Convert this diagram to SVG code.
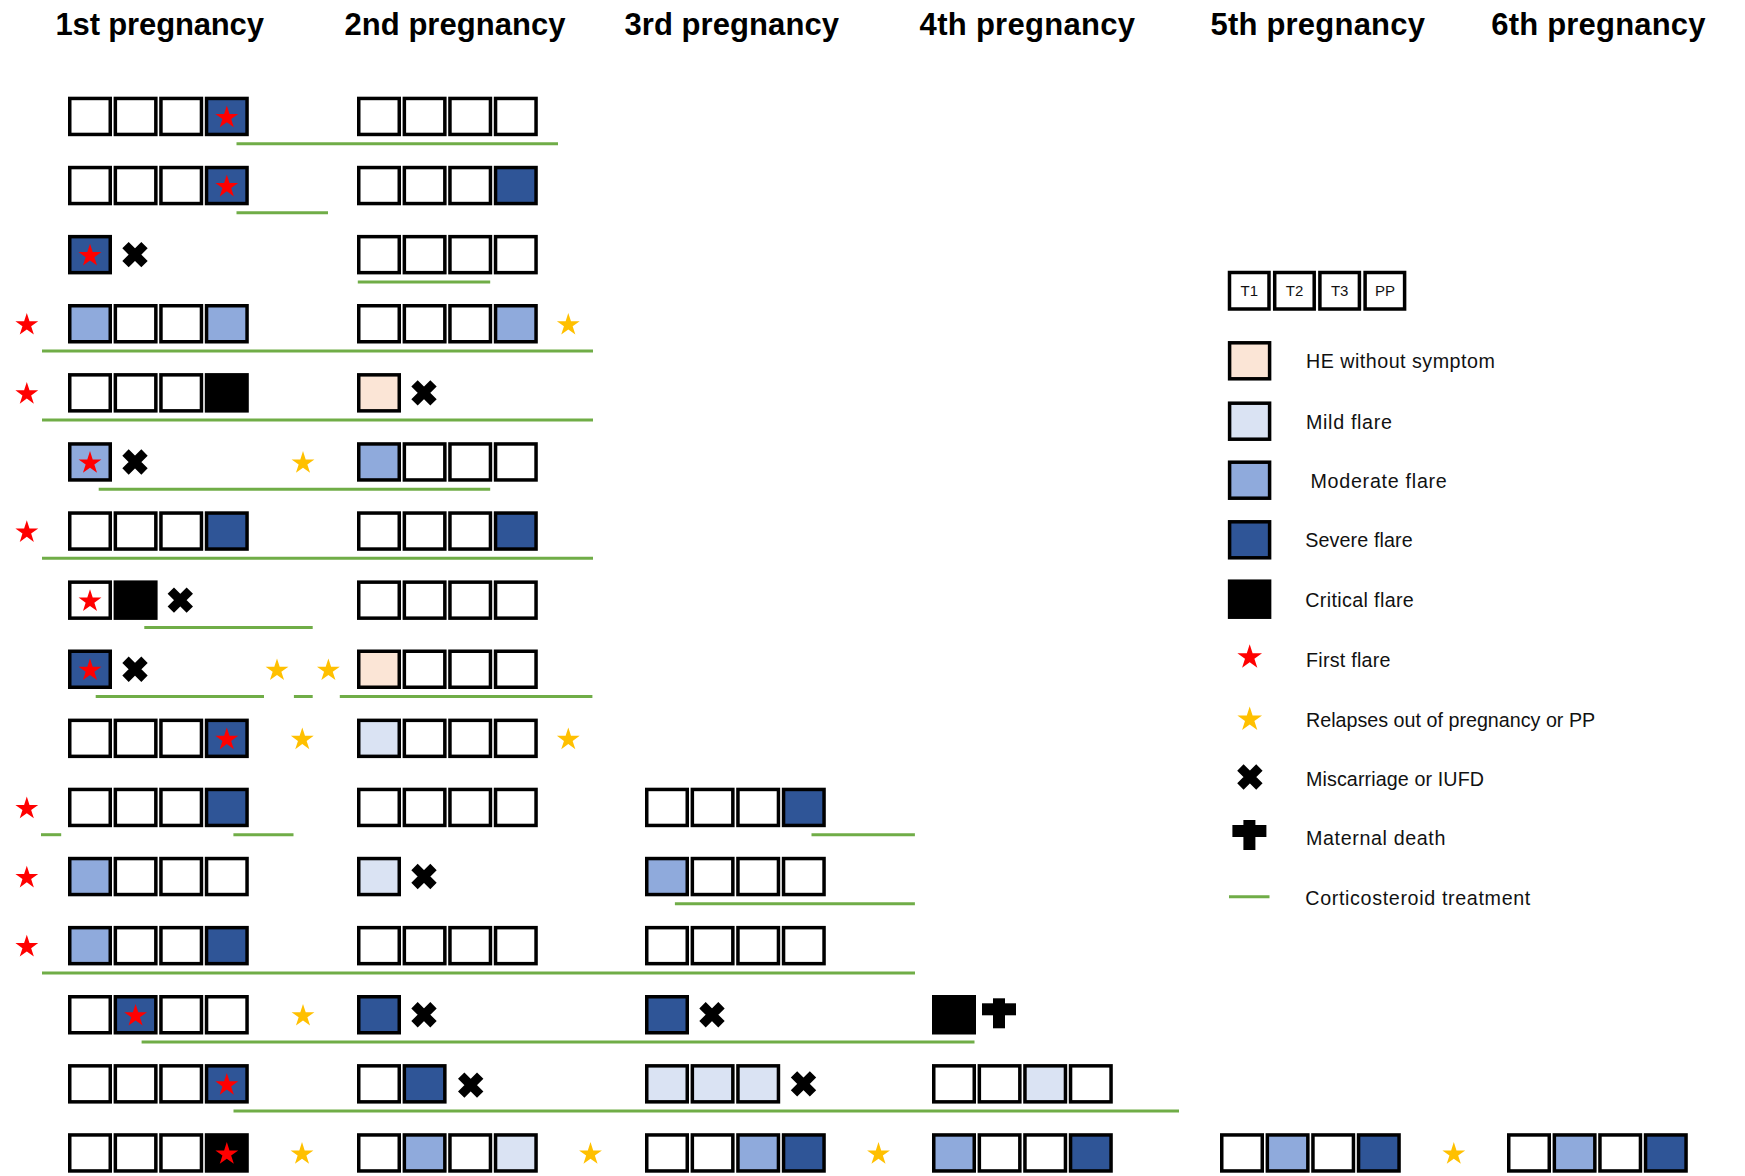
<svg xmlns="http://www.w3.org/2000/svg" xmlns:xlink="http://www.w3.org/1999/xlink" width="1745" height="1176" viewBox="0 0 1745 1176">
<style>
.bx{stroke:#000;stroke-width:3.5}
.w{fill:#fff}.he{fill:#FBE5D6}.mi{fill:#DAE3F3}.mo{fill:#8FAADC}.se{fill:#2F5597}.cr{fill:#000}
.rs{fill:#FF0000}.ys{fill:#FFC000}
.tt{font-family:"Liberation Sans",Arial,sans-serif;font-weight:bold;font-size:31px;fill:#000;text-anchor:middle}
.lg{font-family:"Liberation Sans",Arial,sans-serif;font-size:19.7px;fill:#111}
.tl{font-family:"Liberation Sans",Arial,sans-serif;font-size:15px;fill:#111;text-anchor:middle}
.gl{stroke:#70AD47;stroke-width:3;fill:none}
</style>
<defs>
<path id="star" d="M0,-10.85 L2.69,-2.56 L11.41,-2.56 L4.36,2.57 L7.05,10.86 L0,5.73 L-7.05,10.86 L-4.36,2.57 L-11.41,-2.56 L-2.69,-2.56 Z"/>
<path id="xm" d="M-9.5,-9.5 L9.5,9.5 M9.5,-9.5 L-9.5,9.5" stroke="#000" stroke-width="9" fill="none"/>
<g id="crs" fill="#000"><rect x="-6" y="-15" width="12" height="30"/><rect x="-17" y="-10" width="34" height="12"/></g>
</defs>
<rect width="1745" height="1176" fill="#fff"/>

<g id="titles">
<text class="tt" x="159.7" y="35" textLength="208.5">1st pregnancy</text>
<text class="tt" x="455" y="35" textLength="221">2nd pregnancy</text>
<text class="tt" x="731.7" y="35" textLength="214.6">3rd pregnancy</text>
<text class="tt" x="1027.3" y="35" textLength="215.4">4th pregnancy</text>
<text class="tt" x="1317.7" y="35" textLength="214.5">5th pregnancy</text>
<text class="tt" x="1598.4" y="35" textLength="214.2">6th pregnancy</text>
</g>

<g id="treatment-lines" class="gl">
<line x1="236.5" y1="143.7" x2="558" y2="143.7"/>
<line x1="236.5" y1="212.8" x2="328" y2="212.8"/>
<line x1="357.8" y1="281.9" x2="490.2" y2="281.9"/>
<line x1="42" y1="351" x2="593" y2="351"/>
<line x1="42" y1="420.1" x2="593" y2="420.1"/>
<line x1="98.7" y1="489.2" x2="490.2" y2="489.2"/>
<line x1="42" y1="558.3" x2="593" y2="558.3"/>
<line x1="144.3" y1="627.4" x2="312.7" y2="627.4"/>
<line x1="95.7" y1="696.5" x2="264" y2="696.5"/>
<line x1="293.9" y1="696.5" x2="312.7" y2="696.5"/>
<line x1="339.8" y1="696.5" x2="592.4" y2="696.5"/>
<line x1="41" y1="834.7" x2="61.2" y2="834.7"/>
<line x1="233.4" y1="834.7" x2="293.5" y2="834.7"/>
<line x1="811.5" y1="834.7" x2="914.9" y2="834.7"/>
<line x1="674.9" y1="903.8" x2="914.9" y2="903.8"/>
<line x1="42" y1="972.9" x2="915" y2="972.9"/>
<line x1="141.6" y1="1042" x2="974.5" y2="1042"/>
<line x1="233.5" y1="1111.1" x2="1179" y2="1111.1"/>
</g>

<g id="row1">
<g id="r1p1" transform="translate(68,96.7)">
<rect class="bx w" x="1.75" y="1.75" width="40.5" height="36"/><rect class="bx w" x="47.35" y="1.75" width="40.5" height="36"/><rect class="bx w" x="92.95" y="1.75" width="40.5" height="36"/><rect class="bx se" x="138.55" y="1.75" width="40.5" height="36"/>
<use href="#star" class="rs" x="158.8" y="19.75"/>
</g>
<g id="r1p2" transform="translate(357,96.7)">
<rect class="bx w" x="1.75" y="1.75" width="40.5" height="36"/><rect class="bx w" x="47.35" y="1.75" width="40.5" height="36"/><rect class="bx w" x="92.95" y="1.75" width="40.5" height="36"/><rect class="bx w" x="138.55" y="1.75" width="40.5" height="36"/>
</g>
</g>

<g id="row2">
<g id="r2p1" transform="translate(68,165.8)">
<rect class="bx w" x="1.75" y="1.75" width="40.5" height="36"/><rect class="bx w" x="47.35" y="1.75" width="40.5" height="36"/><rect class="bx w" x="92.95" y="1.75" width="40.5" height="36"/><rect class="bx se" x="138.55" y="1.75" width="40.5" height="36"/>
<use href="#star" class="rs" x="158.8" y="19.75"/>
</g>
<g id="r2p2" transform="translate(357,165.8)">
<rect class="bx w" x="1.75" y="1.75" width="40.5" height="36"/><rect class="bx w" x="47.35" y="1.75" width="40.5" height="36"/><rect class="bx w" x="92.95" y="1.75" width="40.5" height="36"/><rect class="bx se" x="138.55" y="1.75" width="40.5" height="36"/>
</g>
</g>

<g id="row3">
<g id="r3p1" transform="translate(68,234.9)">
<rect class="bx se" x="1.75" y="1.75" width="40.5" height="36"/>
<use href="#star" class="rs" x="22" y="19.75"/>
<use href="#xm" x="67" y="19.75"/>
</g>
<g id="r3p2" transform="translate(357,234.9)">
<rect class="bx w" x="1.75" y="1.75" width="40.5" height="36"/><rect class="bx w" x="47.35" y="1.75" width="40.5" height="36"/><rect class="bx w" x="92.95" y="1.75" width="40.5" height="36"/><rect class="bx w" x="138.55" y="1.75" width="40.5" height="36"/>
</g>
</g>

<g id="row4">
<use href="#star" class="rs" x="26.8" y="323.75"/>
<g id="r4p1" transform="translate(68,304)">
<rect class="bx mo" x="1.75" y="1.75" width="40.5" height="36"/><rect class="bx w" x="47.35" y="1.75" width="40.5" height="36"/><rect class="bx w" x="92.95" y="1.75" width="40.5" height="36"/><rect class="bx mo" x="138.55" y="1.75" width="40.5" height="36"/>
</g>
<g id="r4p2" transform="translate(357,304)">
<rect class="bx w" x="1.75" y="1.75" width="40.5" height="36"/><rect class="bx w" x="47.35" y="1.75" width="40.5" height="36"/><rect class="bx w" x="92.95" y="1.75" width="40.5" height="36"/><rect class="bx mo" x="138.55" y="1.75" width="40.5" height="36"/>
</g>
<use href="#star" class="ys" x="568.3" y="323.75"/>
</g>

<g id="row5">
<use href="#star" class="rs" x="26.8" y="392.85"/>
<g id="r5p1" transform="translate(68,373.1)">
<rect class="bx w" x="1.75" y="1.75" width="40.5" height="36"/><rect class="bx w" x="47.35" y="1.75" width="40.5" height="36"/><rect class="bx w" x="92.95" y="1.75" width="40.5" height="36"/><rect class="bx cr" x="138.55" y="1.75" width="40.5" height="36"/>
</g>
<g id="r5p2" transform="translate(357,373.1)">
<rect class="bx he" x="1.75" y="1.75" width="40.5" height="36"/>
<use href="#xm" x="67" y="19.75"/>
</g>
</g>

<g id="row6">
<g id="r6p1" transform="translate(68,442.2)">
<rect class="bx mo" x="1.75" y="1.75" width="40.5" height="36"/>
<use href="#star" class="rs" x="22" y="19.75"/>
<use href="#xm" x="67" y="19.75"/>
</g>
<use href="#star" class="ys" x="303" y="461.95"/>
<g id="r6p2" transform="translate(357,442.2)">
<rect class="bx mo" x="1.75" y="1.75" width="40.5" height="36"/><rect class="bx w" x="47.35" y="1.75" width="40.5" height="36"/><rect class="bx w" x="92.95" y="1.75" width="40.5" height="36"/><rect class="bx w" x="138.55" y="1.75" width="40.5" height="36"/>
</g>
</g>

<g id="row7">
<use href="#star" class="rs" x="26.8" y="531.05"/>
<g id="r7p1" transform="translate(68,511.3)">
<rect class="bx w" x="1.75" y="1.75" width="40.5" height="36"/><rect class="bx w" x="47.35" y="1.75" width="40.5" height="36"/><rect class="bx w" x="92.95" y="1.75" width="40.5" height="36"/><rect class="bx se" x="138.55" y="1.75" width="40.5" height="36"/>
</g>
<g id="r7p2" transform="translate(357,511.3)">
<rect class="bx w" x="1.75" y="1.75" width="40.5" height="36"/><rect class="bx w" x="47.35" y="1.75" width="40.5" height="36"/><rect class="bx w" x="92.95" y="1.75" width="40.5" height="36"/><rect class="bx se" x="138.55" y="1.75" width="40.5" height="36"/>
</g>
</g>

<g id="row8">
<g id="r8p1" transform="translate(68,580.4)">
<rect class="bx w" x="1.75" y="1.75" width="40.5" height="36"/><rect class="bx cr" x="47.35" y="1.75" width="40.5" height="36"/>
<use href="#star" class="rs" x="22" y="19.75"/>
<use href="#xm" x="112.3" y="19.75"/>
</g>
<g id="r8p2" transform="translate(357,580.4)">
<rect class="bx w" x="1.75" y="1.75" width="40.5" height="36"/><rect class="bx w" x="47.35" y="1.75" width="40.5" height="36"/><rect class="bx w" x="92.95" y="1.75" width="40.5" height="36"/><rect class="bx w" x="138.55" y="1.75" width="40.5" height="36"/>
</g>
</g>

<g id="row9">
<g id="r9p1" transform="translate(68,649.5)">
<rect class="bx se" x="1.75" y="1.75" width="40.5" height="36"/>
<use href="#star" class="rs" x="22" y="19.75"/>
<use href="#xm" x="67" y="19.75"/>
</g>
<use href="#star" class="ys" x="277" y="669.25"/>
<use href="#star" class="ys" x="328.4" y="669.25"/>
<g id="r9p2" transform="translate(357,649.5)">
<rect class="bx he" x="1.75" y="1.75" width="40.5" height="36"/><rect class="bx w" x="47.35" y="1.75" width="40.5" height="36"/><rect class="bx w" x="92.95" y="1.75" width="40.5" height="36"/><rect class="bx w" x="138.55" y="1.75" width="40.5" height="36"/>
</g>
</g>

<g id="row10">
<g id="r10p1" transform="translate(68,718.6)">
<rect class="bx w" x="1.75" y="1.75" width="40.5" height="36"/><rect class="bx w" x="47.35" y="1.75" width="40.5" height="36"/><rect class="bx w" x="92.95" y="1.75" width="40.5" height="36"/><rect class="bx se" x="138.55" y="1.75" width="40.5" height="36"/>
<use href="#star" class="rs" x="158.8" y="19.75"/>
</g>
<use href="#star" class="ys" x="302.3" y="738.35"/>
<g id="r10p2" transform="translate(357,718.6)">
<rect class="bx mi" x="1.75" y="1.75" width="40.5" height="36"/><rect class="bx w" x="47.35" y="1.75" width="40.5" height="36"/><rect class="bx w" x="92.95" y="1.75" width="40.5" height="36"/><rect class="bx w" x="138.55" y="1.75" width="40.5" height="36"/>
</g>
<use href="#star" class="ys" x="568.3" y="738.35"/>
</g>

<g id="row11">
<use href="#star" class="rs" x="26.8" y="807.45"/>
<g id="r11p1" transform="translate(68,787.7)">
<rect class="bx w" x="1.75" y="1.75" width="40.5" height="36"/><rect class="bx w" x="47.35" y="1.75" width="40.5" height="36"/><rect class="bx w" x="92.95" y="1.75" width="40.5" height="36"/><rect class="bx se" x="138.55" y="1.75" width="40.5" height="36"/>
</g>
<g id="r11p2" transform="translate(357,787.7)">
<rect class="bx w" x="1.75" y="1.75" width="40.5" height="36"/><rect class="bx w" x="47.35" y="1.75" width="40.5" height="36"/><rect class="bx w" x="92.95" y="1.75" width="40.5" height="36"/><rect class="bx w" x="138.55" y="1.75" width="40.5" height="36"/>
</g>
<g id="r11p3" transform="translate(645,787.7)">
<rect class="bx w" x="1.75" y="1.75" width="40.5" height="36"/><rect class="bx w" x="47.35" y="1.75" width="40.5" height="36"/><rect class="bx w" x="92.95" y="1.75" width="40.5" height="36"/><rect class="bx se" x="138.55" y="1.75" width="40.5" height="36"/>
</g>
</g>

<g id="row12">
<use href="#star" class="rs" x="26.8" y="876.55"/>
<g id="r12p1" transform="translate(68,856.8)">
<rect class="bx mo" x="1.75" y="1.75" width="40.5" height="36"/><rect class="bx w" x="47.35" y="1.75" width="40.5" height="36"/><rect class="bx w" x="92.95" y="1.75" width="40.5" height="36"/><rect class="bx w" x="138.55" y="1.75" width="40.5" height="36"/>
</g>
<g id="r12p2" transform="translate(357,856.8)">
<rect class="bx mi" x="1.75" y="1.75" width="40.5" height="36"/>
<use href="#xm" x="67" y="19.75"/>
</g>
<g id="r12p3" transform="translate(645,856.8)">
<rect class="bx mo" x="1.75" y="1.75" width="40.5" height="36"/><rect class="bx w" x="47.35" y="1.75" width="40.5" height="36"/><rect class="bx w" x="92.95" y="1.75" width="40.5" height="36"/><rect class="bx w" x="138.55" y="1.75" width="40.5" height="36"/>
</g>
</g>

<g id="row13">
<use href="#star" class="rs" x="26.8" y="945.65"/>
<g id="r13p1" transform="translate(68,925.9)">
<rect class="bx mo" x="1.75" y="1.75" width="40.5" height="36"/><rect class="bx w" x="47.35" y="1.75" width="40.5" height="36"/><rect class="bx w" x="92.95" y="1.75" width="40.5" height="36"/><rect class="bx se" x="138.55" y="1.75" width="40.5" height="36"/>
</g>
<g id="r13p2" transform="translate(357,925.9)">
<rect class="bx w" x="1.75" y="1.75" width="40.5" height="36"/><rect class="bx w" x="47.35" y="1.75" width="40.5" height="36"/><rect class="bx w" x="92.95" y="1.75" width="40.5" height="36"/><rect class="bx w" x="138.55" y="1.75" width="40.5" height="36"/>
</g>
<g id="r13p3" transform="translate(645,925.9)">
<rect class="bx w" x="1.75" y="1.75" width="40.5" height="36"/><rect class="bx w" x="47.35" y="1.75" width="40.5" height="36"/><rect class="bx w" x="92.95" y="1.75" width="40.5" height="36"/><rect class="bx w" x="138.55" y="1.75" width="40.5" height="36"/>
</g>
</g>

<g id="row14">
<g id="r14p1" transform="translate(68,995)">
<rect class="bx w" x="1.75" y="1.75" width="40.5" height="36"/><rect class="bx se" x="47.35" y="1.75" width="40.5" height="36"/><rect class="bx w" x="92.95" y="1.75" width="40.5" height="36"/><rect class="bx w" x="138.55" y="1.75" width="40.5" height="36"/>
<use href="#star" class="rs" x="67.6" y="19.75"/>
</g>
<use href="#star" class="ys" x="303" y="1014.75"/>
<g id="r14p2" transform="translate(357,995)">
<rect class="bx se" x="1.75" y="1.75" width="40.5" height="36"/>
<use href="#xm" x="67" y="19.75"/>
</g>
<g id="r14p3" transform="translate(645,995)">
<rect class="bx se" x="1.75" y="1.75" width="40.5" height="36"/>
<use href="#xm" x="67" y="19.75"/>
</g>
<g id="r14p4" transform="translate(932,995)">
<rect class="bx cr" x="1.75" y="1.75" width="40.5" height="36"/>
<use href="#crs" x="67" y="18.3"/>
</g>
</g>

<g id="row15">
<g id="r15p1" transform="translate(68,1064.1)">
<rect class="bx w" x="1.75" y="1.75" width="40.5" height="36"/><rect class="bx w" x="47.35" y="1.75" width="40.5" height="36"/><rect class="bx w" x="92.95" y="1.75" width="40.5" height="36"/><rect class="bx se" x="138.55" y="1.75" width="40.5" height="36"/>
<use href="#star" class="rs" x="158.8" y="19.75"/>
</g>
<g id="r15p2" transform="translate(357,1064.1)">
<rect class="bx w" x="1.75" y="1.75" width="40.5" height="36"/><rect class="bx se" x="47.35" y="1.75" width="40.5" height="36"/>
<use href="#xm" x="113.7" y="21"/>
</g>
<g id="r15p3" transform="translate(645,1064.1)">
<rect class="bx mi" x="1.75" y="1.75" width="40.5" height="36"/><rect class="bx mi" x="47.35" y="1.75" width="40.5" height="36"/><rect class="bx mi" x="92.95" y="1.75" width="40.5" height="36"/>
<use href="#xm" x="158.5" y="19.75"/>
</g>
<g id="r15p4" transform="translate(932,1064.1)">
<rect class="bx w" x="1.75" y="1.75" width="40.5" height="36"/><rect class="bx w" x="47.35" y="1.75" width="40.5" height="36"/><rect class="bx mi" x="92.95" y="1.75" width="40.5" height="36"/><rect class="bx w" x="138.55" y="1.75" width="40.5" height="36"/>
</g>
</g>

<g id="row16">
<g id="r16p1" transform="translate(68,1133.2)">
<rect class="bx w" x="1.75" y="1.75" width="40.5" height="36"/><rect class="bx w" x="47.35" y="1.75" width="40.5" height="36"/><rect class="bx w" x="92.95" y="1.75" width="40.5" height="36"/><rect class="bx cr" x="138.55" y="1.75" width="40.5" height="36"/>
<use href="#star" class="rs" x="158.8" y="19.75"/>
</g>
<use href="#star" class="ys" x="302" y="1152.95"/>
<g id="r16p2" transform="translate(357,1133.2)">
<rect class="bx w" x="1.75" y="1.75" width="40.5" height="36"/><rect class="bx mo" x="47.35" y="1.75" width="40.5" height="36"/><rect class="bx w" x="92.95" y="1.75" width="40.5" height="36"/><rect class="bx mi" x="138.55" y="1.75" width="40.5" height="36"/>
</g>
<use href="#star" class="ys" x="590.5" y="1152.95"/>
<g id="r16p3" transform="translate(645,1133.2)">
<rect class="bx w" x="1.75" y="1.75" width="40.5" height="36"/><rect class="bx w" x="47.35" y="1.75" width="40.5" height="36"/><rect class="bx mo" x="92.95" y="1.75" width="40.5" height="36"/><rect class="bx se" x="138.55" y="1.75" width="40.5" height="36"/>
</g>
<use href="#star" class="ys" x="878.5" y="1152.95"/>
<g id="r16p4" transform="translate(932,1133.2)">
<rect class="bx mo" x="1.75" y="1.75" width="40.5" height="36"/><rect class="bx w" x="47.35" y="1.75" width="40.5" height="36"/><rect class="bx w" x="92.95" y="1.75" width="40.5" height="36"/><rect class="bx se" x="138.55" y="1.75" width="40.5" height="36"/>
</g>
<g id="r16p5" transform="translate(1220,1133.2)">
<rect class="bx w" x="1.75" y="1.75" width="40.5" height="36"/><rect class="bx mo" x="47.35" y="1.75" width="40.5" height="36"/><rect class="bx w" x="92.95" y="1.75" width="40.5" height="36"/><rect class="bx se" x="138.55" y="1.75" width="40.5" height="36"/>
</g>
<use href="#star" class="ys" x="1453.8" y="1152.95"/>
<g id="r16p6" transform="translate(1507,1133.2)">
<rect class="bx w" x="1.75" y="1.75" width="40.5" height="36"/><rect class="bx mo" x="47.35" y="1.75" width="40.5" height="36"/><rect class="bx w" x="92.95" y="1.75" width="40.5" height="36"/><rect class="bx se" x="138.55" y="1.75" width="40.5" height="36"/>
</g>
</g>

<g id="legend">
<g id="legend-trimesters">
<rect class="bx w" x="1229.5" y="272.5" width="39.5" height="36.5"/>
<rect class="bx w" x="1274.7" y="272.5" width="39.5" height="36.5"/>
<rect class="bx w" x="1319.9" y="272.5" width="39.5" height="36.5"/>
<rect class="bx w" x="1365.1" y="272.5" width="39.5" height="36.5"/>
<text class="tl" x="1249.3" y="296">T1</text>
<text class="tl" x="1294.5" y="296">T2</text>
<text class="tl" x="1339.7" y="296">T3</text>
<text class="tl" x="1384.9" y="296">PP</text>
</g>
<g id="legend-he"><rect class="bx he" x="1229.6" y="342.8" width="40" height="36"/><text class="lg" x="1306" y="368.3" textLength="188.8">HE without symptom</text></g>
<g id="legend-mild"><rect class="bx mi" x="1229.6" y="403.2" width="40" height="36"/><text class="lg" x="1306" y="428.7" textLength="85.9">Mild flare</text></g>
<g id="legend-moderate"><rect class="bx mo" x="1229.6" y="462.2" width="40" height="36"/><text class="lg" x="1310.5" y="487.7" textLength="136.3">Moderate flare</text></g>
<g id="legend-severe"><rect class="bx se" x="1229.6" y="521.8" width="40" height="36"/><text class="lg" x="1305.3" y="547.3" textLength="107.4">Severe flare</text></g>
<g id="legend-critical"><rect class="bx cr" x="1229.6" y="581.2" width="40" height="36"/><text class="lg" x="1305.3" y="606.8" textLength="108.5">Critical flare</text></g>
<g id="legend-first"><use href="#star" class="rs" transform="translate(1249.7,656) scale(1.08)"/><text class="lg" x="1306" y="666.7" textLength="84.5">First flare</text></g>
<g id="legend-relapse"><use href="#star" class="ys" transform="translate(1249.7,718.3) scale(1.08)"/><text class="lg" x="1306" y="726.7" textLength="289.2">Relapses out of pregnancy or PP</text></g>
<g id="legend-miscarriage"><use href="#xm" x="1249.9" y="777"/><text class="lg" x="1306" y="785.7" textLength="178">Miscarriage or IUFD</text></g>
<g id="legend-death"><use href="#crs" x="1249.4" y="835"/><text class="lg" x="1306" y="845" textLength="139.4">Maternal death</text></g>
<g id="legend-cortico"><line class="gl" x1="1229" y1="896.7" x2="1269.5" y2="896.7"/><text class="lg" x="1305.3" y="905" textLength="225">Corticosteroid treatment</text></g>
</g>
</svg>
